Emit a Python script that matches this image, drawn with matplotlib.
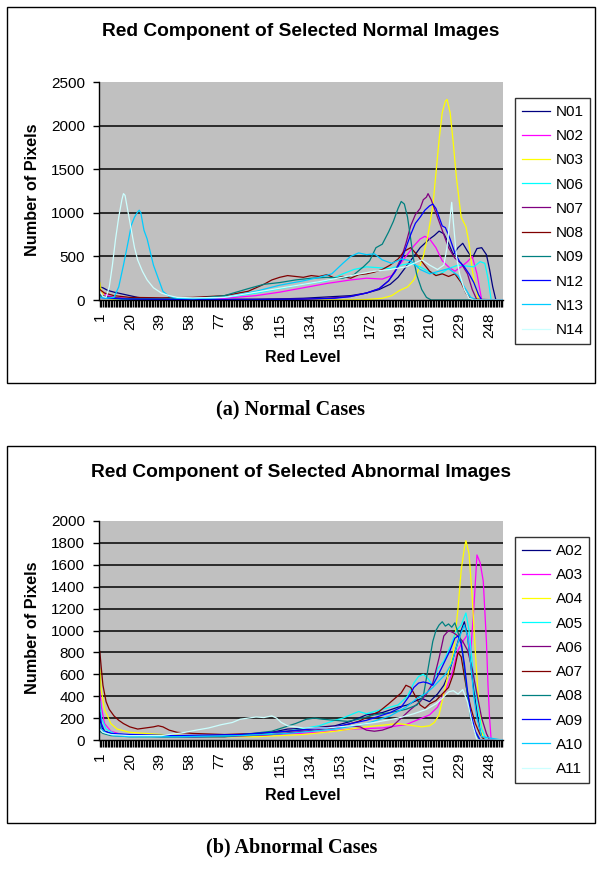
import matplotlib
matplotlib.use("Agg")
import matplotlib.pyplot as plt
from matplotlib.patches import Rectangle

plt.rcParams['font.family'] = ['Liberation Sans', 'DejaVu Sans']

# ---------------- data: Normal cases ----------------
levels = list(range(1, 257))
tick_levels = [1, 20, 39, 58, 77, 96, 115, 134, 153, 172, 191, 210, 229, 248]

normal_names = ["N01", "N02", "N03", "N06", "N07", "N08", "N09", "N12", "N13", "N14"]
abnormal_names = ["A02", "A03", "A04", "A05", "A06", "A07", "A08", "A09", "A10", "A11"]
series_colors = ["#000080", "#FF00FF", "#FFFF00", "#00FFFF", "#800080",
                 "#800000", "#008080", "#0000FF", "#00CCFF", "#CCFFFF"]

n01_x = [1, 3, 6, 10, 15, 20, 25, 30, 40, 60, 80, 100, 120, 130, 140, 150, 160, 170, 178, 185, 190, 195, 200, 204, 207, 210, 213, 216, 219, 222, 225, 228, 231, 234, 237, 240, 243, 246, 248, 250, 252, 256]
n01_y = [150, 140, 110, 90, 70, 50, 30, 20, 15, 10, 8, 10, 15, 20, 30, 40, 50, 80, 120, 180, 260, 380, 500, 600, 650, 700, 740, 790, 760, 650, 520, 600, 650, 560, 480, 590, 600, 520, 350, 150, 0, 0]

n02_x = [1, 3, 6, 10, 20, 40, 60, 80, 100, 115, 130, 145, 160, 170, 180, 186, 190, 195, 200, 204, 207, 210, 214, 218, 222, 226, 230, 234, 237, 240, 243, 256]
n02_y = [110, 80, 50, 30, 15, 10, 10, 20, 50, 90, 140, 190, 230, 250, 240, 280, 380, 500, 620, 700, 730, 700, 600, 450, 380, 330, 380, 440, 500, 300, 0, 0]

n03_x = [1, 2, 4, 8, 20, 60, 100, 150, 170, 180, 186, 191, 196, 200, 203, 206, 209, 212, 214, 216, 218, 220, 221, 223, 225, 227, 230, 233, 235, 237, 239, 241, 243, 256]
n03_y = [200, 100, 40, 10, 0, 0, 0, 0, 5, 20, 50, 110, 150, 230, 350, 500, 750, 1070, 1450, 1835, 2150, 2280, 2300, 2150, 1800, 1400, 950, 840, 650, 350, 150, 0, 0, 0]

n06_x = [1, 3, 8, 15, 30, 50, 70, 85, 100, 115, 130, 145, 155, 162, 170, 178, 185, 192, 198, 204, 210, 216, 222, 228, 233, 238, 242, 245, 247, 249, 256]
n06_y = [60, 40, 20, 10, 10, 15, 20, 40, 80, 130, 180, 220, 300, 350, 380, 370, 360, 400, 420, 380, 320, 290, 360, 400, 390, 380, 440, 420, 250, 0, 0]

n07_x = [1, 5, 15, 30, 60, 100, 130, 145, 160, 170, 178, 184, 188, 192, 195, 198, 201, 204, 206, 208, 209, 211, 213, 216, 219, 222, 226, 230, 234, 237, 240, 256]
n07_y = [60, 40, 20, 10, 5, 5, 10, 20, 40, 80, 130, 220, 330, 480, 650, 850, 980, 1050, 1150, 1180, 1220, 1150, 1050, 900, 750, 600, 480, 420, 300, 120, 0, 0]

n08_x = [1, 4, 10, 20, 40, 60, 80, 95, 105, 110, 115, 120, 125, 130, 135, 140, 145, 150, 155, 160, 165, 170, 175, 180, 185, 190, 194, 198, 202, 206, 210, 214, 218, 222, 226, 230, 233, 236, 256]
n08_y = [120, 80, 50, 30, 25, 30, 50, 100, 180, 230, 260, 280, 270, 260, 280, 270, 290, 250, 270, 250, 290, 300, 320, 350, 400, 470, 560, 600, 520, 420, 330, 280, 300, 270, 300, 200, 80, 10, 0]

n09_x = [1, 5, 15, 40, 60, 80, 95, 105, 115, 125, 135, 145, 155, 162, 168, 172, 176, 180, 184, 187, 190, 192, 194, 196, 198, 200, 202, 205, 208, 211, 256]
n09_y = [50, 30, 15, 10, 15, 50, 130, 180, 200, 230, 250, 260, 250, 290, 380, 450, 600, 640, 780, 900, 1050, 1130, 1100, 950, 700, 450, 280, 120, 30, 0, 0]

n12_x = [1, 5, 20, 60, 100, 130, 150, 160, 170, 178, 184, 188, 192, 195, 198, 201, 204, 207, 210, 212, 214, 216, 218, 220, 223, 226, 229, 232, 235, 238, 241, 243, 256]
n12_y = [30, 20, 10, 5, 5, 10, 20, 40, 80, 130, 220, 320, 450, 600, 750, 880, 950, 1030, 1080, 1100, 1050, 950, 850, 830, 700, 540, 440, 380, 300, 200, 60, 0, 0]

n13_x = [1, 5, 10, 13, 16, 19, 21, 23, 25, 26, 27, 29, 31, 33, 35, 38, 41, 45, 50, 60, 80, 100, 115, 130, 140, 148, 155, 160, 165, 170, 175, 180, 186, 192, 198, 204, 210, 216, 222, 228, 232, 236, 240, 256]
n13_y = [30, 20, 30, 150, 400, 670, 860, 950, 1010, 1030, 1000, 800, 700, 550, 400, 250, 100, 40, 20, 15, 30, 100, 170, 220, 260, 300, 420, 500, 540, 520, 530, 460, 420, 470, 450, 350, 300, 330, 360, 280, 150, 30, 0, 0]

n14_x = [1, 3, 5, 7, 9, 11, 13, 15, 16, 17, 19, 21, 23, 25, 28, 31, 35, 40, 45, 50, 60, 80, 100, 120, 140, 160, 175, 185, 195, 200, 205, 210, 215, 219, 221, 223, 224, 225, 227, 229, 232, 235, 238, 256]
n14_y = [100, 40, 30, 150, 400, 700, 950, 1150, 1220, 1200, 1000, 800, 600, 460, 330, 230, 140, 80, 50, 30, 25, 30, 90, 150, 210, 280, 330, 350, 380, 420, 460, 400, 350, 400, 600, 950, 1120, 900, 500, 300, 120, 20, 0, 0]

# ---------------- data: Abnormal cases ----------------
a02_x = [1, 2, 4, 8, 15, 30, 60, 90, 110, 120, 135, 150, 160, 170, 180, 190, 196, 200, 205, 210, 215, 219, 222, 225, 228, 230, 232, 234, 236, 238, 240, 242, 244, 256]
a02_y = [200, 120, 80, 60, 50, 40, 30, 40, 70, 100, 110, 130, 170, 230, 250, 300, 320, 350, 380, 350, 420, 500, 600, 750, 900, 1000, 1080, 950, 700, 450, 250, 80, 0, 0]

a03_x = [1, 2, 4, 8, 15, 30, 60, 100, 140, 160, 180, 190, 195, 200, 205, 210, 215, 220, 224, 228, 231, 234, 236, 238, 240, 242, 244, 246, 247, 248, 249, 256]
a03_y = [450, 300, 150, 80, 50, 40, 30, 40, 70, 100, 110, 130, 140, 170, 200, 230, 300, 450, 600, 820, 900, 960, 800, 1200, 1690, 1620, 1450, 900, 500, 200, 0, 0]

a04_x = [1, 2, 4, 8, 12, 20, 40, 70, 100, 130, 150, 170, 190, 200, 205, 210, 213, 216, 219, 222, 225, 228, 230, 232, 233, 235, 237, 239, 241, 244, 256]
a04_y = [650, 450, 280, 150, 100, 70, 50, 30, 30, 50, 80, 120, 150, 130, 120, 130, 160, 230, 420, 620, 800, 1200, 1550, 1750, 1820, 1700, 1300, 800, 350, 0, 0]

a05_x = [1, 2, 5, 10, 20, 40, 70, 100, 120, 140, 150, 155, 160, 165, 170, 180, 190, 196, 200, 203, 206, 209, 212, 215, 219, 223, 227, 230, 233, 235, 237, 240, 243, 246, 256]
a05_y = [350, 200, 100, 60, 40, 30, 30, 50, 80, 130, 180, 200, 230, 260, 240, 280, 320, 400, 520, 580, 600, 560, 500, 650, 720, 850, 1000, 1050, 1160, 1000, 700, 350, 100, 0, 0]

a06_x = [1, 3, 8, 20, 40, 80, 110, 130, 150, 160, 166, 170, 175, 180, 186, 192, 198, 204, 208, 212, 216, 219, 222, 225, 228, 231, 234, 237, 240, 243, 246, 248, 256]
a06_y = [120, 80, 50, 40, 30, 30, 50, 80, 110, 130, 120, 90, 80, 90, 120, 200, 280, 350, 420, 520, 750, 950, 1000, 980, 950, 900, 820, 650, 420, 200, 60, 0, 0]

a07_x = [1, 2, 3, 5, 7, 10, 13, 16, 20, 25, 30, 35, 38, 41, 45, 50, 60, 80, 100, 120, 140, 155, 165, 172, 178, 184, 188, 192, 195, 198, 201, 204, 207, 210, 214, 218, 222, 225, 228, 230, 233, 236, 239, 242, 245, 256]
a07_y = [810, 650, 500, 350, 280, 220, 180, 150, 120, 100, 110, 120, 130, 120, 90, 70, 60, 50, 60, 80, 110, 130, 170, 220, 260, 330, 380, 430, 500, 480, 400, 320, 290, 330, 360, 420, 480, 600, 800, 760, 500, 300, 150, 50, 0, 0]

a08_x = [1, 3, 8, 20, 50, 80, 110, 125, 132, 137, 142, 150, 158, 165, 175, 185, 195, 202, 206, 209, 212, 214, 216, 218, 220, 222, 224, 226, 228, 230, 232, 234, 236, 239, 242, 256]
a08_y = [80, 60, 40, 30, 30, 30, 80, 150, 190, 200, 190, 180, 170, 190, 230, 250, 280, 320, 400, 650, 900, 1000, 1050, 1080, 1040, 1060, 1030, 1070, 980, 900, 650, 400, 200, 60, 0, 0]

a09_x = [1, 2, 4, 8, 20, 50, 90, 120, 150, 170, 185, 192, 197, 200, 203, 206, 209, 212, 215, 219, 223, 226, 228, 230, 232, 234, 236, 239, 242, 256]
a09_y = [250, 150, 80, 60, 50, 40, 50, 80, 120, 180, 250, 300, 400, 480, 520, 530, 520, 500, 580, 700, 820, 930, 950, 880, 700, 450, 250, 80, 0, 0]

a10_x = [1, 2, 5, 10, 20, 50, 90, 120, 150, 170, 185, 195, 202, 208, 212, 216, 220, 224, 227, 230, 232, 234, 236, 238, 240, 243, 256]
a10_y = [150, 100, 60, 40, 30, 30, 40, 60, 100, 150, 220, 300, 380, 430, 480, 540, 600, 700, 850, 980, 1050, 950, 700, 400, 200, 30, 0]

a11_x = [1, 3, 8, 20, 40, 55, 62, 70, 78, 85, 90, 95, 100, 105, 110, 113, 116, 120, 130, 145, 160, 175, 190, 200, 208, 214, 218, 222, 225, 228, 231, 234, 237, 240, 256]
a11_y = [100, 70, 50, 40, 40, 70, 90, 110, 140, 160, 190, 200, 210, 205, 220, 200, 160, 130, 110, 110, 130, 160, 200, 240, 280, 330, 380, 440, 450, 420, 460, 350, 150, 0, 0]

normal_series = [(n01_x, n01_y), (n02_x, n02_y), (n03_x, n03_y), (n06_x, n06_y), (n07_x, n07_y),
                 (n08_x, n08_y), (n09_x, n09_y), (n12_x, n12_y), (n13_x, n13_y), (n14_x, n14_y)]
abnormal_series = [(a02_x, a02_y), (a03_x, a03_y), (a04_x, a04_y), (a05_x, a05_y), (a06_x, a06_y),
                   (a07_x, a07_y), (a08_x, a08_y), (a09_x, a09_y), (a10_x, a10_y), (a11_x, a11_y)]

normal_yticks = [0, 500, 1000, 1500, 2000, 2500]
abnormal_yticks = [0, 200, 400, 600, 800, 1000, 1200, 1400, 1600, 1800, 2000]

# ---------------- figure ----------------
W, H = 600, 874
fig = plt.figure(figsize=(W / 100, H / 100), dpi=100)
fig.patch.set_facecolor("white")


def fx(px):
    return px / W


def fy(py):
    return 1 - py / H


def panel(box_top, box_bot, ax_top, ax_bot, title, title_y, ylab_y, xlab_y,
          leg_top, caption, cap_x, cap_y, names, series, yticks):
    rect = Rectangle((fx(7), fy(box_bot)), fx(595) - fx(7), fy(box_top) - fy(box_bot),
                     transform=fig.transFigure, facecolor="none",
                     edgecolor="black", linewidth=1.0, zorder=-10)
    fig.add_artist(rect)
    ax = fig.add_axes([fx(99), fy(ax_bot), fx(503) - fx(99), fy(ax_top) - fy(ax_bot)])
    ax.set_zorder(1)
    ax.set_facecolor("#C0C0C0")
    for (xs, ys), name, col in zip(series, names, series_colors):
        ax.plot(xs, ys, color=col, linewidth=0.9, label=name, zorder=3)
    ax.set_xlim(0.5, 256.5)
    ax.set_ylim(yticks[0], yticks[-1])
    ax.set_xticks(levels)
    ax.set_xticklabels([str(v) if v in tick_levels else "" for v in levels],
                       rotation=90, fontsize=11)
    ax.set_yticks(yticks)
    ax.set_yticklabels([str(v) for v in yticks], fontsize=11)
    ax.tick_params(axis="x", length=5, width=1.0, direction="out", pad=4, color="black")
    ax.tick_params(axis="y", length=4, width=1.0, direction="out", pad=6, color="black")
    for v in yticks[1:-1]:
        ax.axhline(v, color="#111111", linewidth=1.2, zorder=1)
    for s in ["top", "right"]:
        ax.spines[s].set_visible(False)
    for s in ["left", "bottom"]:
        ax.spines[s].set_color("black")
        ax.spines[s].set_linewidth(1.0)
        ax.spines[s].set_zorder(5)
    fig.text(fx(301), fy(title_y), title, ha="center", va="center",
             fontsize=13.8, fontweight="bold")
    fig.text(fx(33), fy(ylab_y), "Number of Pixels", ha="center", va="center",
             rotation=90, fontsize=11.7, fontweight="bold")
    fig.text(fx(303), fy(xlab_y), "Red Level", ha="center", va="center",
             fontsize=11.5, fontweight="bold")
    fig.text(fx(cap_x), fy(cap_y), caption, ha="center", va="center", fontsize=14.5,
             fontweight="bold", family=["Liberation Serif", "DejaVu Serif"])
    leg = ax.legend(loc="upper left", bbox_to_anchor=(fx(515), fy(leg_top)),
                    bbox_transform=fig.transFigure, frameon=True, fancybox=False,
                    edgecolor="black", fontsize=11, handlelength=1.85,
                    handletextpad=0.35, labelspacing=0.67, borderpad=0.45,
                    borderaxespad=0)
    leg.get_frame().set_linewidth(1.0)
    return ax


panel(7, 383, 82, 300, "Red Component of Selected Normal Images", 32, 190, 357,
      98, "(a) Normal Cases", 290, 409, normal_names, normal_series, normal_yticks)
panel(446, 823, 521, 740, "Red Component of Selected Abnormal Images", 472, 628, 796,
      537, "(b) Abnormal Cases", 292, 847, abnormal_names, abnormal_series, abnormal_yticks)

fig.savefig("out.png", dpi=100, facecolor="white")
